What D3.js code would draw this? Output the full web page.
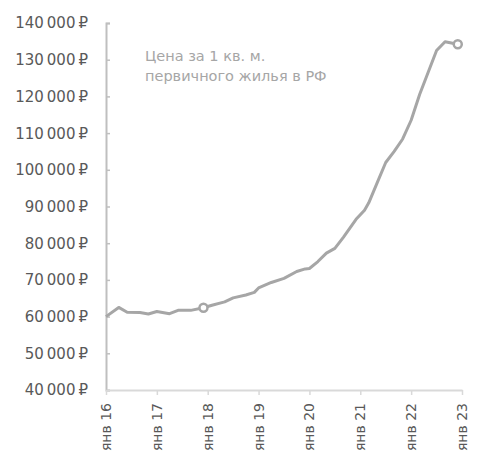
<!DOCTYPE html>
<html>
<head>
<meta charset="utf-8">
<script src="https://cdn.jsdelivr.net/npm/d3@7"></script>
<style>
  body { margin: 0; background: #fff; }
  text { font-family: "DejaVu Sans", Verdana, sans-serif; }
</style>
</head>
<body>
<div id="chart"></div>
<script>
// months since Jan 2016 and price per sq. m (RUB)
var months = [0, 3, 5, 8, 10, 12, 15, 17, 20, 23, 25, 28, 30, 33, 35, 36, 39, 42, 45, 47, 48,
              50, 52, 54, 56, 59, 61, 62, 64, 66, 68, 70, 72, 74, 76, 78, 80, 83];
var prices = [60000, 62500, 61200, 61100, 60700, 61400, 60800, 61700, 61700, 62400, 63100,
              64000, 65100, 65900, 66600, 67800, 69300, 70400, 72300, 73000, 73100,
              75000, 77300, 78600, 81600, 86500, 89000, 91000, 96500, 102000, 105000, 108400,
              113500, 120500, 126500, 132500, 134900, 134200];
var markedMonths = [23, 83];
var yTicks = [40000, 50000, 60000, 70000, 80000, 90000, 100000, 110000, 120000, 130000, 140000];
var xTickYears = [16, 17, 18, 19, 20, 21, 22, 23];
var titleLines = ["Цена за 1 кв. м.", "первичного жилья в РФ"];

var width = 485, height = 468;
var svg = d3.select("#chart").append("svg")
    .attr("width", width)
    .attr("height", height);

var x = d3.scaleLinear().domain([0, 84]).range([106, 462]);
var y = d3.scaleLinear().domain([40000, 140000]).range([390, 23]);

var fmt = function(v) {
    return d3.format(",")(v).replace(/,/g, "\u2009") + "\u2009₽";
};

// y axis
var yAxis = svg.append("g")
    .attr("transform", "translate(106,0)")
    .call(d3.axisRight(y).tickValues(yTicks).tickSize(4).tickFormat(""));
yAxis.select(".domain").attr("stroke", "#bfbfbf").attr("stroke-width", 2);
yAxis.selectAll(".tick line").attr("stroke", "#bfbfbf").attr("stroke-width", 1.5);

svg.append("g").selectAll("text")
    .data(yTicks)
    .enter()
    .append("text")
    .attr("x", 88)
    .attr("y", function(d) { return y(d); })
    .attr("dy", "0.36em")
    .attr("text-anchor", "end")
    .style("font-size", "15px")
    .style("fill", "#595959")
    .text(fmt);

// x axis
var xAxis = svg.append("g")
    .attr("transform", "translate(0,390)")
    .call(d3.axisBottom(x).tickValues(xTickYears.map(function(d) { return (d - 16) * 12; }))
        .tickSize(5).tickSizeOuter(0).tickFormat(""));
xAxis.select(".domain").attr("stroke", "#d9d9d9").attr("stroke-width", 2);
xAxis.selectAll(".tick line").attr("stroke", "#d9d9d9").attr("stroke-width", 1.5);

svg.append("g").selectAll("text")
    .data(xTickYears)
    .enter()
    .append("text")
    .attr("transform", function(d) {
        return "translate(" + x((d - 16) * 12) + ",403) rotate(-90)";
    })
    .attr("dy", "0.36em")
    .attr("text-anchor", "end")
    .style("font-size", "14px")
    .style("fill", "#595959")
    .text(function(d) { return "янв " + d; });

// line
var data = months.map(function(m, i) { return { m: m, v: prices[i] }; });
var line = d3.line()
    .x(function(d) { return x(d.m); })
    .y(function(d) { return y(d.v); });

svg.append("path")
    .datum(data)
    .attr("d", line)
    .attr("fill", "none")
    .attr("stroke", "#a6a6a6")
    .attr("stroke-width", 3)
    .attr("stroke-linejoin", "round");

svg.append("g").selectAll("circle")
    .data(data.filter(function(d) { return markedMonths.indexOf(d.m) >= 0; }))
    .enter()
    .append("circle")
    .attr("cx", function(d) { return x(d.m); })
    .attr("cy", function(d) { return y(d.v); })
    .attr("r", 4)
    .attr("fill", "#fff")
    .attr("stroke", "#a6a6a6")
    .attr("stroke-width", 2.5);

// title
svg.append("text")
    .attr("x", 145)
    .attr("y", 61)
    .style("font-size", "14.5px")
    .style("fill", "#a6a6a6")
    .selectAll("tspan")
    .data(titleLines)
    .enter()
    .append("tspan")
    .attr("x", 145)
    .attr("dy", function(d, i) { return i ? 20 : 0; })
    .text(function(d) { return d; });
</script>
</body>
</html>
